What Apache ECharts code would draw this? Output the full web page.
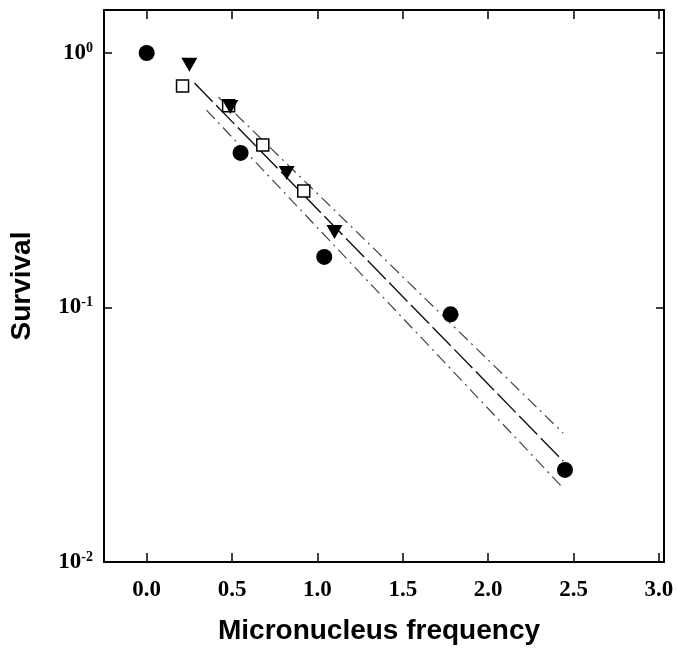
<!DOCTYPE html>
<html>
<head>
<meta charset="utf-8">
<script src="https://cdn.jsdelivr.net/npm/echarts@6/dist/echarts.min.js"></script>
<style>
html, body { margin: 0; padding: 0; background: #fff; }
#chart { width: 678px; height: 652px; }
</style>
</head>
<body>
<div id="chart"></div>
<script>
// filled circles
var circleX = [0.0, 0.55, 1.04, 1.78, 2.45];
var circleY = [1.0, 0.405, 0.158, 0.094, 0.023];
// filled down triangles
var triX = [0.25, 0.49, 0.82, 1.10];
var triY = [0.90, 0.613, 0.338, 0.198];
// open squares
var squareX = [0.21, 0.48, 0.68, 0.92];
var squareY = [0.742, 0.62, 0.435, 0.287];
// fitted line and its two bounds (start, end)
var fitX = [0.28, 2.44];
var fitY = [0.762, 0.0249];
var upperX = [0.42, 2.44];
var upperY = [0.671, 0.0321];
var lowerX = [0.35, 2.44];
var lowerY = [0.597, 0.0195];
// ticks
var xTicks = [0, 0.5, 1, 1.5, 2, 2.5, 3];
var yTicks = [0.01, 0.1, 1];

(function() {
    var myChart = echarts.init(document.getElementById('chart'));

    function pts(xs, ys) {
        return xs.map(function(x, i) { return [x, ys[i]]; });
    }

    var serif = "'Liberation Serif', 'Times New Roman', serif";
    var sans = "'Liberation Sans', Arial, sans-serif";
    var black = '#000';

    var lineAxis = {onZero: false, lineStyle: {color: black, width: 2}};

    var option = {
        animation: false,
        backgroundColor: '#fff',
        grid: {left: 104, right: 14, top: 10, bottom: 90, containLabel: false},
        xAxis: [{
            type: 'value',
            min: -0.25,
            max: 3.03,
            position: 'bottom',
            axisLine: lineAxis,
            axisTick: {inside: true, length: 9, customValues: xTicks, lineStyle: {color: black, width: 1.5}},
            axisLabel: {
                customValues: xTicks,
                formatter: function(v) { return v.toFixed(1); },
                fontFamily: serif, fontWeight: 'bold', fontSize: 23, color: black, margin: 17
            },
            splitLine: {show: false},
            name: 'Micronucleus frequency',
            nameLocation: 'middle',
            nameGap: 55,
            nameTextStyle: {fontFamily: sans, fontWeight: 'bold', fontSize: 28, color: black, padding: [0, 10, 0, 0]}
        }, {
            type: 'value',
            min: -0.25,
            max: 3.03,
            position: 'top',
            axisLine: lineAxis,
            axisTick: {inside: true, length: 9, customValues: xTicks, lineStyle: {color: black, width: 1.5}},
            axisLabel: {show: false},
            splitLine: {show: false}
        }],
        yAxis: [{
            type: 'log',
            logBase: 10,
            min: 0.01,
            max: 1.476,
            position: 'left',
            axisLine: lineAxis,
            axisTick: {inside: true, length: 8, customValues: yTicks, lineStyle: {color: black, width: 1.5}},
            axisLabel: {
                customValues: yTicks,
                margin: 11,
                formatter: function(v) {
                    var e = Math.round(Math.log(v) / Math.LN10);
                    return '{b|10}{s|' + e + '}';
                },
                rich: {
                    b: {fontFamily: serif, fontWeight: 'bold', fontSize: 23, color: black, lineHeight: 24},
                    s: {fontFamily: serif, fontWeight: 'bold', fontSize: 14, color: black, verticalAlign: 'top', lineHeight: 24}
                }
            },
            splitLine: {show: false},
            name: 'Survival',
            nameLocation: 'middle',
            nameRotate: 90,
            nameGap: 68,
            nameTextStyle: {fontFamily: sans, fontWeight: 'bold', fontSize: 28, color: black}
        }, {
            type: 'log',
            logBase: 10,
            min: 0.01,
            max: 1.476,
            position: 'right',
            axisLine: lineAxis,
            axisTick: {inside: true, length: 8, customValues: yTicks, lineStyle: {color: black, width: 1.5}},
            axisLabel: {show: false},
            splitLine: {show: false}
        }],
        series: [{
            type: 'line',
            data: pts(upperX, upperY),
            symbol: 'none',
            lineStyle: {color: '#444', width: 1.2, type: [12, 5, 2, 5]},
            z: 1
        }, {
            type: 'line',
            data: pts(fitX, fitY),
            symbol: 'none',
            lineStyle: {color: '#111', width: 1.4, type: [26, 5]},
            z: 1
        }, {
            type: 'line',
            data: pts(lowerX, lowerY),
            symbol: 'none',
            lineStyle: {color: '#444', width: 1.2, type: [12, 5, 2, 5]},
            z: 1
        }, {
            type: 'scatter',
            data: pts(squareX, squareY),
            symbol: 'rect',
            symbolSize: 12,
            itemStyle: {color: '#fff', borderColor: black, borderWidth: 1.5, opacity: 1},
            z: 2
        }, {
            type: 'scatter',
            data: pts(triX, triY),
            symbol: 'triangle',
            symbolRotate: 180,
            symbolSize: [16, 14],
            itemStyle: {color: black, opacity: 1},
            z: 3
        }, {
            type: 'scatter',
            data: pts(circleX, circleY),
            symbol: 'circle',
            symbolSize: 16,
            itemStyle: {color: black, opacity: 1},
            z: 3
        }]
    };

    myChart.setOption(option);
    window.addEventListener('resize', function() {
        myChart.resize();
    });
})();
</script>
</body>
</html>
